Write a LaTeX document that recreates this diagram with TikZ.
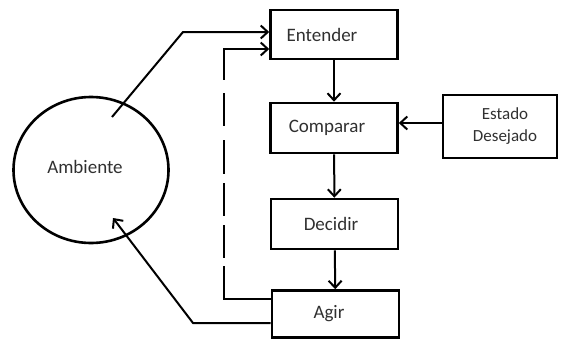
\documentclass[tikz,border=0pt]{standalone}
\usepackage{fontspec}
\setmainfont{Carlito}
\usetikzlibrary{arrows.meta,shapes.geometric}
\definecolor{txt}{HTML}{303030}
\begin{document}
\begin{tikzpicture}[x=1pt,y=-1pt,
  box/.style={draw,line width=2.6pt,rectangle,inner sep=0pt,text=txt,
    minimum width=127pt,minimum height=49pt,
    font=\fontsize{19}{23}\selectfont},
  conn/.style={line width=2pt,-{Straight Barb[length=7pt,width=13pt,line width=2pt]}}]
\useasboundingbox (0,0) rectangle (561,340);

% process boxes
\node[box] (ent) at (334,34.5) {\hspace*{-24pt}Entender};
\node[box,minimum height=50pt] (comp) at (334,128) {\hspace*{-14pt}Comparar};
\node[box,minimum height=50pt] (dec) at (334.5,224) {\hspace*{-7pt}Decidir};
\node[box,minimum height=47pt] (agir) at (335.5,314) {\hspace*{-13pt}Agir};
\node[box,minimum width=114pt,minimum height=63pt,align=center,
  font=\fontsize{17}{22}\selectfont] (est) at (500,126.5)
  {\hspace*{10pt}Estado\\\hspace*{10pt}Desejado};

% environment
\node[draw,ellipse,line width=2.6pt,minimum width=155pt,minimum height=146pt,
  inner sep=0pt] (amb) at (91,170) {};
\node[text=txt,font=\fontsize{19}{23}\selectfont] (ambt) at (85,167) {Ambiente};

% main flow
\draw[conn] (ent) -- (comp);
\draw[conn] (comp) -- (dec);
\draw[conn] (dec) -- (agir);
\draw[conn] (est.west |- 0,123) -- (comp.east |- 0,123);

% perception from the environment
\coordinate (s1) at (112,117);
\coordinate (k1) at (183,32);
\draw[conn] (s1) -- (k1) -- (k1 -| ent.west);

% action on the environment
\coordinate (k2) at (193,323);
\coordinate (s2) at (113,218);
\draw[conn] (agir.west |- k2) -- (k2) -- (s2);

% feedback from acting to understanding
\coordinate (k3) at (224,299);
\draw[conn,
  dash pattern=on 80pt off 8pt on 33pt off 9pt on 33pt off 9pt on 34pt off 14pt on 33pt off 13pt on 120pt off 1pt]
  (agir.west |- k3) -- (k3) |- ([yshift=-14.5pt]ent.west);
\end{tikzpicture}
\end{document}
